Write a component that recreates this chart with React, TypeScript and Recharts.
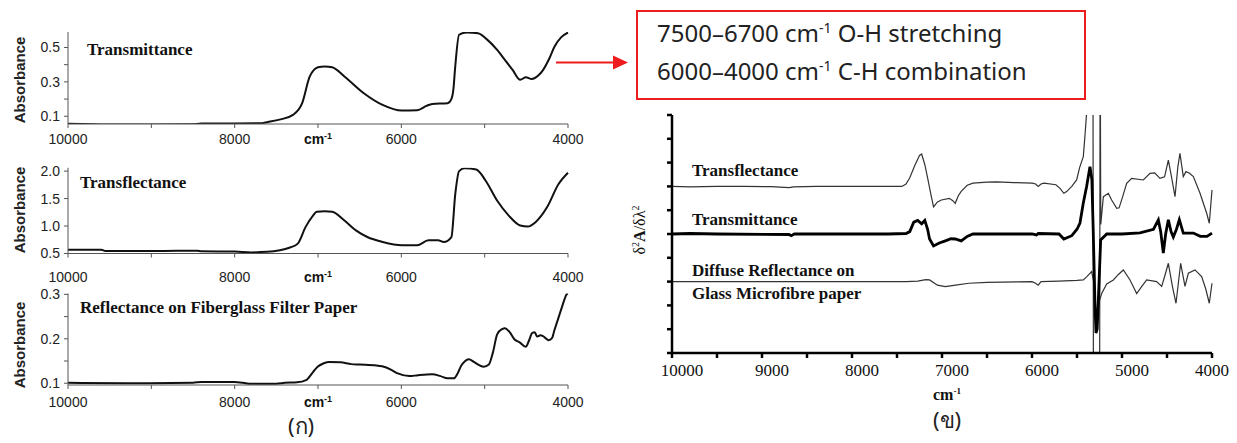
import { LineChart, Line, XAxis, YAxis } from "recharts";

// ---- left (ก): absorbance spectra ----
const transmWn = [10000, 9500, 9000, 8500, 8400, 8000, 7700, 7600, 7450, 7300, 7190, 7100, 7000, 6920, 6830, 6680, 6450, 6225, 5995, 5810, 5700, 5630, 5445, 5400, 5376, 5353, 5307, 5216, 5080, 4980, 4850, 4760, 4665, 4573, 4505, 4436, 4360, 4298, 4230, 4161, 4080, 4000];
const transmAbs = [0.056, 0.052, 0.052, 0.053, 0.058, 0.058, 0.059, 0.067, 0.082, 0.108, 0.176, 0.33, 0.385, 0.39, 0.385, 0.33, 0.234, 0.166, 0.133, 0.135, 0.16, 0.172, 0.176, 0.2, 0.253, 0.39, 0.574, 0.587, 0.583, 0.55, 0.486, 0.43, 0.37, 0.312, 0.327, 0.316, 0.335, 0.37, 0.43, 0.506, 0.56, 0.587];

const transfWn = [10000, 9600, 9550, 9000, 8700, 8450, 8400, 8000, 7800, 7610, 7335, 7243, 7150, 7060, 7015, 6920, 6830, 6683, 6545, 6408, 6225, 5995, 5812, 5674, 5560, 5490, 5399, 5353, 5307, 5239, 5101, 4986, 4849, 4711, 4573, 4482, 4390, 4252, 4115, 4000];
const transfAbs = [0.57, 0.57, 0.545, 0.545, 0.55, 0.55, 0.54, 0.535, 0.52, 0.53, 0.61, 0.68, 0.98, 1.19, 1.26, 1.27, 1.26, 1.1, 0.92, 0.8, 0.71, 0.65, 0.65, 0.74, 0.74, 0.71, 0.8, 1.58, 2.0, 2.05, 2.03, 1.82, 1.46, 1.19, 1.01, 0.99, 1.07, 1.34, 1.76, 1.97];

const reflWn = [10000, 9300, 8500, 8400, 8000, 7900, 7800, 7500, 7400, 7250, 7143, 7060, 7005, 6930, 6867, 6730, 6600, 6500, 6300, 6230, 6120, 6042, 5905, 5800, 5630, 5530, 5447, 5370, 5330, 5280, 5240, 5190, 5130, 5060, 5011, 4950, 4900, 4850, 4790, 4758, 4700, 4644, 4580, 4507, 4470, 4430, 4400, 4370, 4330, 4300, 4233, 4190, 4165, 4110, 4072, 4040, 4017, 4000];
const reflAbs = [0.101, 0.1, 0.101, 0.103, 0.103, 0.101, 0.099, 0.099, 0.101, 0.102, 0.107, 0.125, 0.137, 0.145, 0.148, 0.147, 0.143, 0.142, 0.14, 0.138, 0.13, 0.122, 0.116, 0.118, 0.12, 0.116, 0.111, 0.111, 0.12, 0.14, 0.149, 0.154, 0.148, 0.14, 0.137, 0.142, 0.17, 0.21, 0.222, 0.224, 0.215, 0.199, 0.192, 0.182, 0.195, 0.213, 0.215, 0.205, 0.208, 0.206, 0.197, 0.202, 0.218, 0.25, 0.272, 0.29, 0.3, 0.302];

// ---- right (ข): second derivative, offset traces ----
const d2TransfWn = [10000, 9800, 9500, 9200, 8900, 8700, 8650, 8400, 8000, 7700, 7446, 7400, 7358, 7300, 7250, 7226, 7190, 7160, 7120, 7094, 7050, 7007, 6919, 6880, 6853, 6820, 6787, 6720, 6656, 6500, 6392, 6200, 5997, 5960, 5931, 5900, 5866, 5734, 5689, 5646, 5615, 5558, 5504, 5471, 5430, 5410, 5393, 5380, 5322, 5318, 5248, 5244, 5240, 5236, 5207, 5152, 5115, 5059, 5032, 4990, 4948, 4893, 4763, 4689, 4637, 4578, 4527, 4485, 4450, 4411, 4380, 4356, 4319, 4289, 4250, 4207, 4133, 4059, 4030, 4000];
const d2TransfVal = [7.0, 6.98, 7.0, 7.0, 6.99, 6.95, 6.98, 7.0, 7.0, 7.0, 7.0, 7.1, 7.36, 7.9, 8.3, 8.36, 7.9, 7.36, 6.6, 6.14, 6.35, 6.43, 6.5, 6.4, 6.29, 6.6, 6.79, 7.05, 7.14, 7.18, 7.19, 7.16, 7.14, 7.1, 7.0, 7.1, 7.14, 7.07, 6.92, 6.71, 6.78, 7.0, 7.27, 7.79, 8.25, 9.2, 10.1, 10.5, 10.5, -0.3, -0.3, 10.5, 10.5, 5.4, 6.57, 6.71, 6.43, 6.08, 6.1, 6.6, 7.13, 7.34, 7.27, 7.55, 7.57, 7.34, 7.4, 8.1, 7.4, 6.57, 7.8, 8.39, 7.41, 7.62, 7.55, 7.41, 6.71, 5.87, 5.45, 6.85];

const d2TransmWn = [10000, 9800, 9500, 8700, 8675, 8640, 8000, 7600, 7400, 7358, 7314, 7270, 7226, 7191, 7160, 7138, 7094, 7030, 6963, 6900, 6853, 6787, 6720, 6656, 6000, 5950, 5931, 5700, 5646, 5558, 5500, 5467, 5430, 5393, 5356, 5335, 5319, 5300, 5289, 5276, 5263, 5237, 5170, 5000, 4800, 4650, 4596, 4570, 4541, 4515, 4485, 4455, 4430, 4395, 4363, 4319, 4207, 4130, 4056, 4000];
const d2TransmVal = [5.0, 5.02, 5.0, 4.98, 4.93, 5.0, 5.0, 5.0, 5.02, 5.1, 5.5, 5.57, 5.43, 5.57, 5.2, 4.79, 4.5, 4.62, 4.71, 4.8, 4.79, 4.71, 4.9, 5.0, 5.0, 4.96, 5.02, 5.0, 4.79, 4.93, 5.2, 5.46, 6.3, 7.0, 7.83, 7.3, 5.04, 2.0, 0.84, 1.0, 2.2, 4.75, 5.0, 5.0, 5.05, 5.2, 5.59, 5.1, 4.2, 5.0, 5.6, 5.1, 4.87, 5.2, 5.6, 5.04, 5.04, 4.9, 4.9, 5.04];

const d2DiffWn = [10000, 9000, 8000, 7400, 7270, 7180, 7138, 7050, 6963, 6850, 6700, 6500, 6000, 5960, 5931, 5900, 5700, 5500, 5430, 5393, 5337, 5315, 5300, 5285, 5270, 5250, 5226, 5170, 5096, 5040, 4985, 4911, 4837, 4780, 4726, 4615, 4559, 4520, 4485, 4440, 4400, 4375, 4348, 4320, 4300, 4263, 4189, 4115, 4070, 4030, 4000];
const d2DiffVal = [3.0, 3.0, 3.0, 3.0, 3.02, 3.08, 3.07, 2.85, 2.79, 2.85, 2.93, 2.97, 3.0, 2.93, 2.85, 3.0, 3.02, 3.05, 3.07, 3.2, 3.42, 3.0, 2.2, 0.9, 1.5, 2.2, 2.5, 2.9, 3.07, 3.3, 3.49, 3.07, 2.5, 2.8, 3.07, 3.0, 2.8, 3.3, 3.77, 2.8, 2.09, 2.9, 3.77, 3.2, 2.8, 3.35, 3.49, 3.21, 2.7, 2.09, 2.93];

const leftXTicks = [10000, 9000, 8000, 7000, 6000, 5000, 4000];
const leftXLabels = [10000, 8000, 6000, 4000];
const rightXTicks = [10000, 9500, 9000, 8500, 8000, 7500, 7000, 6500, 6000, 5500, 5000, 4500, 4000];
const rightYTicks = [0, 1, 2, 3, 4, 5, 6, 7, 8, 9, 10];

const toRows = (xs: number[], ys: number[]) => xs.map((x, i) => ({ x, y: ys[i] }));

const SANS = "'Liberation Sans', Arial, sans-serif";
const SERIF = "'Liberation Serif', 'Times New Roman', serif";
const RED = "#ee1c1c";

const LeftXTick = (props: any) => {
  const { x, y, payload } = props;
  const v = payload.value;
  if (v === 7000) {
    return (
      <text x={x} y={y} dy="0.71em" textAnchor="middle" fontFamily={SANS} fontWeight="bold" fontSize={14} fill="#111">
        cm<tspan fontSize={9} dy={-5}>-1</tspan>
      </text>
    );
  }
  if (!leftXLabels.includes(v)) return <g />;
  return (
    <text x={x} y={y} dy="0.71em" textAnchor="middle" fontFamily={SANS} fontSize={14} fill="#222">
      {v}
    </text>
  );
};

const RightXTick = (props: any) => {
  const { x, y, payload } = props;
  const v = payload.value;
  if (v % 1000 !== 0) return <g />;
  return (
    <text x={x + (v === 4000 ? 0 : 10)} y={y} dy="0.71em" textAnchor="middle" fontFamily={SERIF} fontSize={17} fill="#111">
      {v}
    </text>
  );
};

interface PanelProps {
  top: number;
  height: number;
  marginTop: number;
  xAxisHeight: number;
  tickMargin: number;
  rows: { x: number; y: number }[];
  domain: [number, number];
  yTicks: number[];
  yLabels: number[];
}

function AbsPanel({ top, height, marginTop, xAxisHeight, tickMargin, rows, domain, yTicks, yLabels }: PanelProps) {
  return (
    <div style={{ position: "absolute", left: 0, top }}>
      <LineChart width={600} height={height} margin={{ top: marginTop, right: 32, bottom: 0, left: 0 }}>
        <XAxis
          type="number"
          dataKey="x"
          domain={[4000, 10000]}
          reversed
          ticks={leftXTicks}
          tick={<LeftXTick />}
          tickSize={4}
          tickMargin={tickMargin}
          height={xAxisHeight}
          stroke="#555"
          interval={0}
        />
        <YAxis
          type="number"
          domain={domain}
          allowDataOverflow
          ticks={yTicks}
          width={68}
          tickSize={4}
          tickMargin={4}
          stroke="#555"
          interval={0}
          tick={{ fontSize: 14, fontFamily: SANS, fill: "#222" }}
          tickFormatter={(v: number) => (yLabels.some((l) => Math.abs(l - v) < 1e-6) ? v.toFixed(1) : "")}
        />
        <Line data={rows} dataKey="y" type="monotone" stroke="#111" strokeWidth={2} dot={false} isAnimationActive={false} />
      </LineChart>
    </div>
  );
}

const absLabel = (cy: number) => (
  <div
    style={{
      position: "absolute",
      left: 20 - 50,
      top: cy - 9,
      width: 100,
      height: 18,
      lineHeight: "18px",
      textAlign: "center",
      transform: "rotate(-90deg)",
      fontFamily: SANS,
      fontWeight: "bold",
      fontSize: 15,
      color: "#222",
    }}
  >
    Absorbance
  </div>
);

const serifText = (text: string, left: number, cy: number, size = 17) => (
  <div
    style={{
      position: "absolute",
      left,
      top: cy - size / 2,
      lineHeight: `${size}px`,
      fontFamily: SERIF,
      fontWeight: "bold",
      fontSize: size,
      color: "#111",
      whiteSpace: "nowrap",
    }}
  >
    {text}
  </div>
);

const supStyle = { fontSize: 14, position: "relative" as const, top: -9 };

export default function App() {
  return (
    <div style={{ position: "absolute", left: 0, top: 0, width: 1237, height: 443, background: "#fff", overflow: "hidden" }}>
      <AbsPanel top={0} height={150} marginTop={32} xAxisHeight={26} tickMargin={6} rows={toRows(transmWn, transmAbs)} domain={[0.055, 0.59]} yTicks={[0.1, 0.2, 0.3, 0.4, 0.5]} yLabels={[0.1, 0.3, 0.5]} />
      <AbsPanel top={140} height={150} marginTop={27.8} xAxisHeight={36.5} tickMargin={14.5} rows={toRows(transfWn, transfAbs)} domain={[0.5, 2.06]} yTicks={[0.5, 1.0, 1.5, 2.0]} yLabels={[0.5, 1.0, 1.5, 2.0]} />
      <AbsPanel top={280} height={163} marginTop={13.5} xAxisHeight={58} tickMargin={7.7} rows={toRows(reflWn, reflAbs)} domain={[0.096, 0.302]} yTicks={[0.1, 0.15, 0.2, 0.25, 0.3]} yLabels={[0.1, 0.2, 0.3]} />

      {absLabel(80)}
      {absLabel(210)}
      {absLabel(345)}
      {serifText("Transmittance", 87, 49)}
      {serifText("Transflectance", 80, 182)}
      {serifText("Reflectance on Fiberglass Filter Paper", 80, 307)}

      <div style={{ position: "absolute", left: 288, top: 413, fontFamily: "'Noto Sans', sans-serif", fontSize: 22, lineHeight: "24px", color: "#222" }}>(ก)</div>

      {/* right panel */}
      <div style={{ position: "absolute", left: 620, top: 100 }}>
        <LineChart width={617} height={343} margin={{ top: 15, right: 25, bottom: 0, left: 0 }}>
          <XAxis
            type="number"
            dataKey="x"
            domain={[4000, 10000]}
            reversed
            ticks={rightXTicks}
            tick={<RightXTick />}
            interval={0}
            tickSize={5}
            tickMargin={5.5}
            height={90}
            stroke="#000"
            strokeWidth={2.5}
          />
          <YAxis
            type="number"
            domain={[0, 10]}
            allowDataOverflow
            ticks={rightYTicks}
            interval={0}
            width={52}
            tickSize={5}
            stroke="#000"
            strokeWidth={2.5}
            tickFormatter={() => ""}
          />
          <Line data={toRows(d2TransfWn, d2TransfVal)} dataKey="y" type="linear" stroke="#333" strokeWidth={1.2} dot={false} isAnimationActive={false} />
          <Line data={toRows(d2DiffWn, d2DiffVal)} dataKey="y" type="linear" stroke="#333" strokeWidth={1.2} dot={false} isAnimationActive={false} />
          <Line data={toRows(d2TransmWn, d2TransmVal)} dataKey="y" type="linear" stroke="#000" strokeWidth={2.8} dot={false} isAnimationActive={false} />
        </LineChart>
      </div>

      {serifText("Transflectance", 692, 170)}
      {serifText("Transmittance", 692, 219)}
      {serifText("Diffuse Reflectance on", 692, 270)}
      {serifText("Glass Microfibre paper", 692, 293)}

      <div
        style={{
          position: "absolute",
          left: 636 - 50,
          top: 230 - 10,
          width: 100,
          height: 20,
          lineHeight: "20px",
          textAlign: "center",
          transform: "rotate(-90deg)",
          fontFamily: SERIF,
          fontSize: 16,
          color: "#111",
        }}
      >
        δ<sup style={{ fontSize: 10 }}>2</sup>
        <b>A</b>/δλ<sup style={{ fontSize: 10 }}>2</sup>
      </div>

      <div style={{ position: "absolute", left: 933, top: 387, fontFamily: SERIF, fontWeight: "bold", fontSize: 16, lineHeight: "16px", color: "#111" }}>
        cm<span style={{ fontSize: 9, position: "relative", top: -6 }}>-1</span>
      </div>
      <div style={{ position: "absolute", left: 933, top: 407, fontFamily: "'Noto Sans', sans-serif", fontSize: 22, lineHeight: "24px", color: "#222" }}>(ข)</div>

      {/* annotation */}
      <svg style={{ position: "absolute", left: 0, top: 0 }} width={1237} height={443}>
        <line x1={556} y1={62.5} x2={615} y2={62.5} stroke={RED} strokeWidth={2} />
        <polygon points="613,55.5 628,62.5 613,69.5" fill={RED} />
      </svg>
      <div
        style={{
          position: "absolute",
          left: 636,
          top: 10,
          width: 446,
          height: 86,
          border: `2px solid ${RED}`,
          fontFamily: "'Noto Sans', sans-serif",
          fontSize: 24,
          color: "#222",
          lineHeight: "34px",
        }}
      >
        <div style={{ position: "absolute", left: 19, top: 4, whiteSpace: "nowrap" }}>
          7500–6700 cm<span style={supStyle}>-1</span> O-H stretching
          <br />
          6000–4000 cm<span style={supStyle}>-1</span> C-H combination
        </div>
      </div>
    </div>
  );
}
